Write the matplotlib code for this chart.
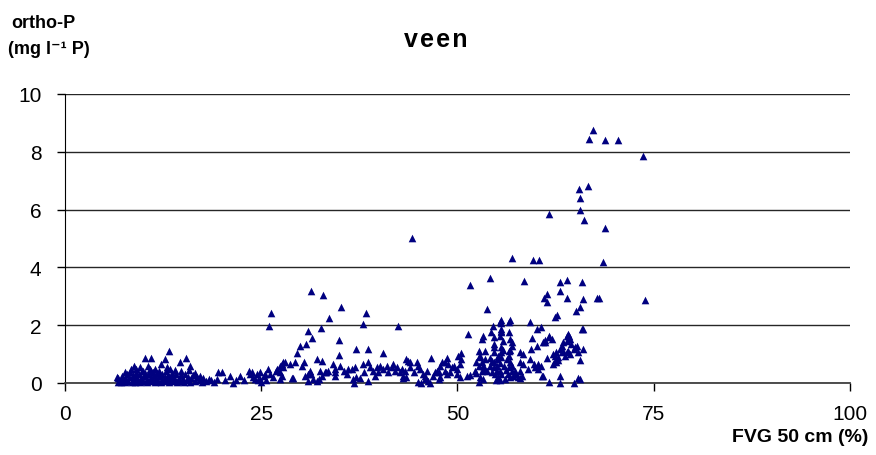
import matplotlib
matplotlib.use('Agg')
import matplotlib.pyplot as plt

plt.rcParams['font.family'] = ['Liberation Sans', 'DejaVu Sans']

# FVG 50 cm (%) tegen ortho-P (mg/l P), veengronden
# laag 1: dichte band bij lage FVG
punten_band = [
    (6.6, 0.20), (6.7, 0.05), (6.8, 0.18), (7.1, 0.02), (7.2, 0.12), (7.3, 0.25),
    (7.6, 0.05), (7.7, 0.18), (7.9, 0.30), (8.0, 0.08), (8.2, 0.20), (8.3, 0.38),
    (8.5, 0.02), (8.6, 0.14), (8.7, 0.28), (8.9, 0.05), (9.0, 0.22), (9.1, 0.35),
    (9.3, 0.10), (9.4, 0.30), (9.6, 0.02), (9.7, 0.18), (9.8, 0.40), (10.0, 0.08),
    (10.1, 0.25), (10.2, 0.35), (10.4, 0.02), (10.5, 0.15), (10.6, 0.30), (10.8, 0.06),
    (10.9, 0.20), (11.0, 0.40), (11.2, 0.10), (11.3, 0.28), (11.5, 0.02), (11.6, 0.18),
    (11.7, 0.35), (11.9, 0.08), (12.0, 0.24), (12.2, 0.02), (12.3, 0.15), (12.4, 0.32),
    (12.6, 0.06), (12.7, 0.22), (12.9, 0.40), (13.0, 0.10), (13.1, 0.28), (13.3, 0.02),
    (13.4, 0.18), (13.6, 0.34), (13.7, 0.06), (13.8, 0.24), (14.0, 0.12), (14.2, 0.30),
    (14.3, 0.02), (14.5, 0.18), (14.7, 0.08), (14.8, 0.26), (15.0, 0.14), (15.2, 0.03),
    (15.3, 0.30), (15.5, 0.10), (15.7, 0.22), (15.9, 0.05), (16.1, 0.16), (16.3, 0.28),
    (16.6, 0.06), (16.8, 0.20), (17.1, 0.10), (17.4, 0.03), (17.6, 0.18), (18.0, 0.08),
    (18.3, 0.15),
    # boven de band
    (13.2, 1.10), (10.2, 0.86), (11.0, 0.86), (12.7, 0.82), (12.2, 0.66), (15.4, 0.86),
    (14.6, 0.74), (15.9, 0.60), (15.8, 0.46), (8.8, 0.60), (9.1, 0.48), (10.6, 0.60),
    (10.8, 0.48), (13.0, 0.54), (13.4, 0.48), (9.6, 0.55), (11.5, 0.50), (12.0, 0.42),
    (14.0, 0.45), (9.9, 0.42), (11.2, 0.38), (14.8, 0.40), (16.5, 0.35), (17.2, 0.25),
    (8.4, 0.48), (7.6, 0.38),
]

punten_18_30 = [
    (18.6, 0.10), (19.0, 0.05), (19.3, 0.15), (19.5, 0.37), (20.0, 0.37), (20.4, 0.10),
    (21.0, 0.25), (21.4, 0.00), (21.8, 0.12), (22.3, 0.25), (22.8, 0.10), (23.4, 0.43),
    (23.6, 0.31), (23.8, 0.37), (24.0, 0.20), (24.2, 0.14), (24.4, 0.31), (24.6, 0.10),
    (24.8, 0.37), (24.8, 0.14), (25.0, 0.05), (25.3, 0.25), (25.5, 0.31), (25.6, 0.10),
    (25.9, 0.48), (26.0, 1.98), (26.1, 0.31), (26.2, 2.42), (26.5, 0.20), (26.9, 0.43),
    (27.0, 0.48), (27.4, 0.14), (27.4, 0.37), (27.4, 0.60), (27.6, 0.25), (27.6, 0.66),
    (27.8, 0.54), (27.8, 0.71), (28.0, 0.74), (28.6, 0.66), (28.9, 0.16), (29.1, 0.16),
    (29.3, 0.71), (29.6, 1.04), (29.9, 1.29),
]

punten_30_47 = [
    (30.2, 0.60), (30.4, 0.74), (30.6, 0.23), (30.7, 1.36), (31.0, 0.08), (31.0, 0.31),
    (31.0, 1.80), (31.2, 0.43), (31.3, 3.19), (31.4, 0.31), (31.5, 1.55), (31.6, 0.14),
    (32.1, 0.08), (32.1, 0.83), (32.3, 0.14), (32.5, 0.43), (32.6, 1.92), (32.7, 0.25),
    (32.7, 0.77), (32.9, 3.06), (33.1, 0.37), (33.3, 0.37), (33.5, 0.43), (33.6, 2.24),
    (34.2, 0.66), (34.4, 0.25), (34.4, 0.37), (34.4, 0.48), (34.9, 0.98), (34.9, 1.49),
    (35.0, 0.60), (35.2, 2.62), (35.5, 0.43), (35.9, 0.31), (36.1, 0.48), (36.5, 0.48),
    (36.7, 0.14), (36.8, 0.00), (36.9, 0.54), (37.1, 0.20), (37.1, 1.18), (37.6, 0.16),
    (37.9, 0.66), (37.9, 2.05), (38.1, 0.37), (38.4, 2.42), (38.6, 0.08), (38.6, 0.71),
    (38.6, 1.18), (38.9, 0.54), (39.3, 0.43), (39.5, 0.25), (39.7, 0.54), (39.9, 0.37),
    (40.1, 0.60), (40.5, 0.48), (40.5, 1.05), (41.0, 0.60), (41.2, 0.37), (41.6, 0.54),
    (41.8, 0.66), (42.0, 0.43), (42.3, 0.54), (42.4, 1.98), (42.7, 0.37), (42.9, 0.48),
    (43.1, 0.16), (43.1, 0.25), (43.3, 0.43), (43.5, 0.20), (43.5, 0.83), (43.7, 0.77),
    (43.9, 0.54), (43.9, 0.71), (44.2, 5.02), (44.4, 0.37), (44.8, 0.71), (45.0, 0.05),
    (45.0, 0.60), (45.2, 0.48), (45.4, 0.00), (45.6, 0.31), (45.9, 0.14), (45.9, 0.25),
    (46.1, 0.43), (46.3, 0.08), (46.5, 0.00), (46.6, 0.85), (46.9, 0.25),
]

punten_47_58 = [
    (47.1, 0.37), (47.4, 0.43), (47.6, 0.14), (47.6, 0.37), (47.8, 0.20), (47.8, 0.60),
    (48.0, 0.72), (48.4, 0.43), (48.4, 0.71), (48.6, 0.31), (48.6, 0.85), (48.8, 0.66),
    (49.0, 0.37), (49.3, 0.54), (49.5, 0.60), (49.9, 0.31), (49.9, 0.49), (50.1, 0.95),
    (50.3, 0.20), (50.3, 0.66), (50.5, 0.83), (50.5, 1.04), (51.2, 0.23), (51.4, 1.70),
    (51.6, 0.28), (51.6, 3.39), (52.2, 0.43), (52.4, 0.35), (52.4, 0.71), (52.7, 0.02),
    (52.7, 0.60), (52.7, 0.89), (52.7, 1.12), (52.9, 0.20), (52.9, 0.95), (53.1, 0.43),
    (53.1, 0.72), (53.1, 1.52), (53.3, 0.14), (53.3, 0.60), (53.3, 1.62), (53.5, 0.48),
    (53.5, 0.83), (53.5, 1.12), (53.7, 0.43), (53.7, 2.56), (54.2, 0.60), (54.2, 0.85),
    (54.2, 3.63), (54.3, 1.75), (54.4, 0.38), (54.4, 0.75), (54.5, 1.98), (54.6, 0.55),
    (54.6, 0.72), (54.6, 1.06), (54.6, 1.23), (54.6, 1.35), (54.6, 1.58), (54.8, 0.30),
    (54.9, 0.12), (55.0, 0.42), (55.0, 0.60), (55.0, 0.83), (55.2, 0.20), (55.2, 0.95),
    (55.4, 0.10), (55.4, 0.43), (55.4, 0.70), (55.4, 1.64), (55.4, 2.12), (55.5, 1.06),
    (55.5, 1.81), (55.5, 1.87), (55.5, 2.08), (55.6, 0.31), (55.6, 0.90), (55.6, 1.23),
    (55.6, 1.75), (55.6, 2.19), (55.8, 1.15), (55.8, 1.46), (55.9, 0.60), (56.0, 0.15),
    (56.2, 0.45), (56.3, 0.83), (56.4, 0.30), (56.5, 0.95), (56.5, 1.12), (56.5, 1.75),
    (56.5, 2.12), (56.6, 0.55), (56.7, 0.20), (56.7, 0.72), (56.7, 1.15), (56.7, 1.52),
    (56.7, 2.18), (56.9, 0.40), (56.9, 0.60), (56.9, 1.29), (56.9, 1.43), (56.9, 4.33),
    (57.1, 0.25), (57.3, 0.43), (57.5, 0.31), (57.7, 0.20), (58.0, 0.43), (58.0, 0.71),
    (58.0, 1.08), (58.0, 0.17),
]

punten_58_75 = [
    (58.2, 0.25), (58.4, 0.66), (58.4, 1.00), (58.5, 3.52), (59.0, 0.48), (59.2, 0.83),
    (59.3, 2.12), (59.4, 1.17), (59.5, 1.55), (59.6, 4.27), (59.7, 0.66), (59.9, 0.54),
    (60.1, 1.29), (60.1, 1.87), (60.3, 0.48), (60.3, 0.66), (60.4, 4.27), (60.6, 1.93),
    (60.7, 0.60), (60.8, 0.23), (60.9, 0.25), (60.9, 1.43), (61.0, 2.94), (61.1, 1.41),
    (61.2, 1.50), (61.4, 0.85), (61.4, 2.81), (61.4, 3.08), (61.6, 1.58), (61.7, 0.02),
    (61.7, 1.62), (61.7, 5.85), (62.0, 1.52), (62.2, 0.66), (62.2, 1.00), (62.4, 0.77),
    (62.4, 0.95), (62.4, 2.28), (62.5, 0.74), (62.6, 1.06), (62.7, 2.35), (62.8, 0.81),
    (62.8, 0.89), (63.0, 0.00), (63.0, 0.23), (63.0, 3.19), (63.0, 3.50), (63.1, 1.18),
    (63.3, 1.06), (63.3, 1.29), (63.5, 1.12), (63.5, 1.41), (63.7, 0.95), (63.9, 1.06),
    (63.9, 1.47), (63.9, 1.64), (64.0, 2.93), (64.0, 3.57), (64.1, 1.12), (64.1, 1.70),
    (64.2, 1.62), (64.3, 1.00), (64.3, 1.52), (64.5, 1.35), (64.8, 0.00), (64.8, 1.18),
    (65.0, 1.23), (65.1, 2.48), (65.2, 1.29), (65.4, 0.16), (65.4, 1.06), (65.6, 0.14),
    (65.6, 0.81), (65.6, 2.62), (65.6, 6.00), (65.6, 6.40), (65.5, 6.72), (65.8, 1.87),
    (65.9, 3.50), (66.0, 1.18), (66.0, 1.87), (66.0, 2.90), (66.1, 5.65), (66.6, 6.80),
    (66.8, 8.45), (67.3, 8.75), (67.8, 2.95), (68.0, 2.95), (68.5, 4.20), (68.8, 5.35),
    (68.8, 8.40), (70.5, 8.40), (73.6, 7.85), (73.9, 2.87),
]

alle_punten = punten_band + punten_18_30 + punten_30_47 + punten_47_58 + punten_58_75
fvg = [p[0] for p in alle_punten]
ortho_p = [p[1] for p in alle_punten]

x_ticks = [0, 25, 50, 75, 100]
y_ticks = [0, 2, 4, 6, 8, 10]

KLEUR_PUNT = '#000080'

fig = plt.figure(figsize=(8.76, 4.56), dpi=100)
ax = fig.add_axes([0.0742, 0.1579, 0.8961, 0.6338])

ax.scatter(fvg, ortho_p, marker='^', s=30, color=KLEUR_PUNT,
           linewidths=0, zorder=3, clip_on=False)

ax.set_xlim(0, 100)
ax.set_ylim(0, 10)
ax.set_xticks(x_ticks)
ax.set_yticks(y_ticks)

# alleen horizontale rasterlijnen
ax.yaxis.grid(True, color='#262626', linewidth=1.0, zorder=1)
ax.set_axisbelow(True)
ax.spines['top'].set_visible(False)
ax.spines['right'].set_visible(False)
ax.spines['left'].set_color('black')
ax.spines['bottom'].set_color('#404040')
ax.spines['bottom'].set_linewidth(1.3)

ax.tick_params(axis='both', direction='out', length=6, width=1,
               labelsize=15, colors='black')
ax.tick_params(axis='y', pad=11)
ax.tick_params(axis='x', pad=9)

# titel met wat extra letterafstand
fig.text(0.497, 1 - 40 / 456, '\u200a'.join('veen'), ha='center', va='center',
         fontsize=18, fontweight='bold')
fig.text(0.013, 1 - 24 / 456, 'ortho-P', ha='left', va='center',
         fontsize=13, fontweight='bold')
fig.text(0.009, 1 - 50 / 456, '(mg l\u207b\u00b9 P)', ha='left', va='center',
         fontsize=13, fontweight='bold')
fig.text(868 / 876, 1 - 438 / 456, 'FVG 50 cm (%)', ha='right', va='center',
         fontsize=14, fontweight='bold')

fig.savefig('out.png', dpi=100)
plt.close(fig)
